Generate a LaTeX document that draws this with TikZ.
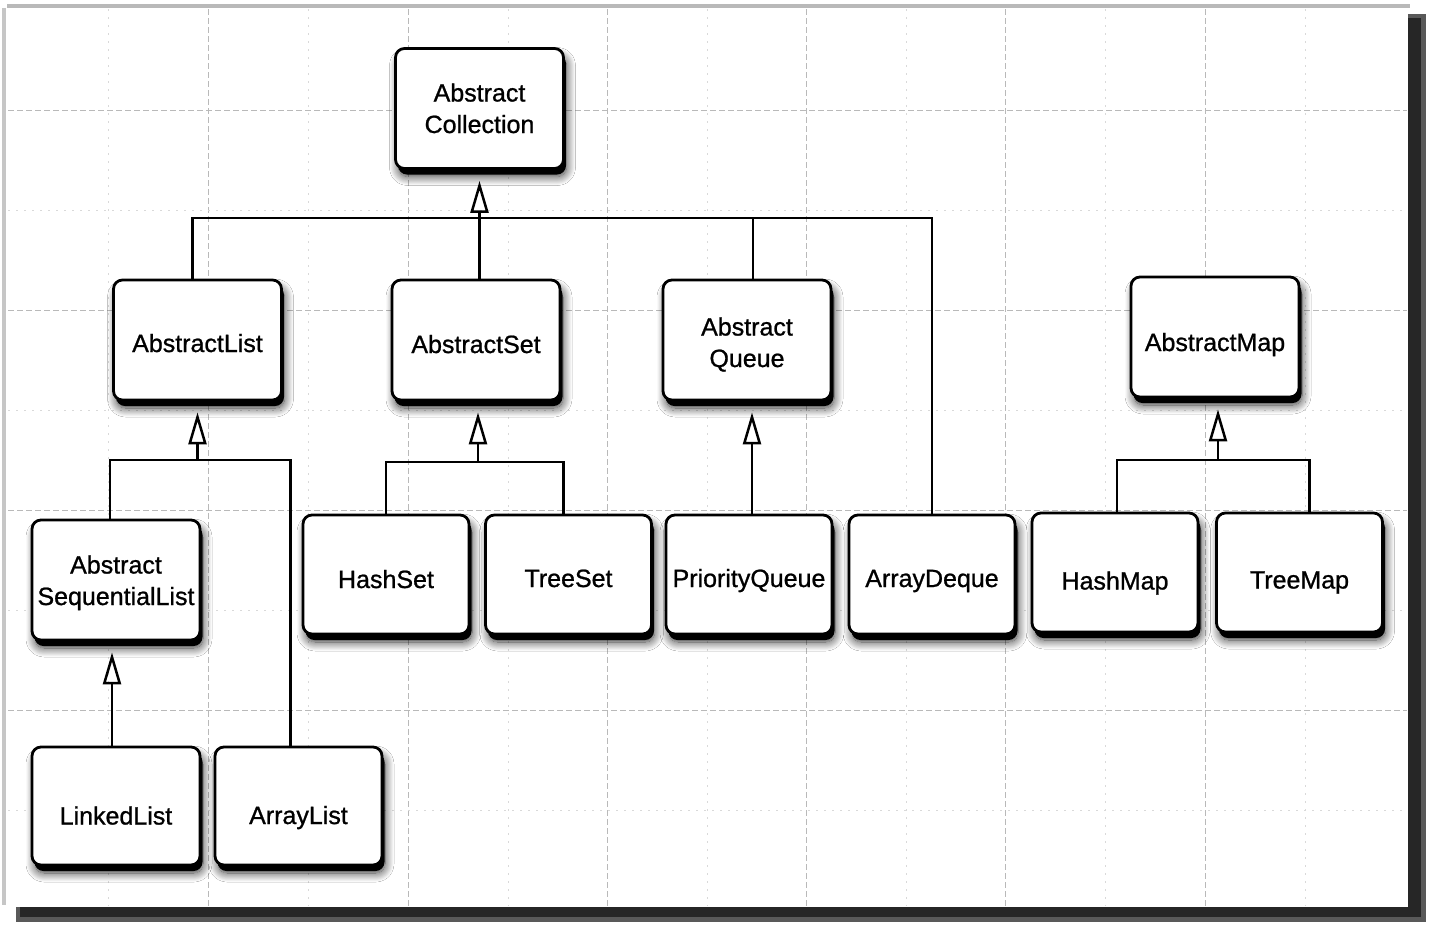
\documentclass[tikz,border=0pt]{standalone}
\usepackage{fontspec}
\setmainfont{Liberation Sans}
\newfontfamily\boxfont{Liberation Sans}[FakeBold=0.9]
\usetikzlibrary{arrows.meta,shadows.blur}
\newcommand\dn[2]{\raisebox{-#1}[0pt][0pt]{\makebox[0pt]{\parbox[b]{176pt}{\centering #2}}}}
\begin{document}
\begin{tikzpicture}[x=1pt,y=-1pt,
  box/.style={draw=black, line width=2.8pt, rounded corners=9pt, fill=white,
    minimum width=168pt, minimum height=120pt, inner sep=0pt,
    font=\boxfont\fontsize{25}{31.5}\selectfont,
    preaction={fill=black, transform canvas={xshift=2.5pt, yshift=-6pt}},
    blur shadow={shadow xshift=3pt, shadow yshift=-8pt, shadow blur radius=9pt, shadow opacity=80, shadow blur steps=14}},
  conn/.style={line width=2.5pt, black},
  inh/.style={conn, -{Triangle[open, length=32pt, width=18pt]}, shorten >=11pt},
  major/.style={gray!55, line width=1pt, dash pattern=on 6pt off 3pt},
  minor/.style={gray!30, line width=0.8pt, dash pattern=on 2pt off 6pt}]
\useasboundingbox (0,0) rectangle (1429,927);
\fill[white] (0,0) rectangle (1429,927);
% panel shadow and panel
\fill[black!65] (16,14) rectangle (1426,922);
\fill[black!85] (20,18) rectangle (1421,917);
\fill[white] (7,8) rectangle (1408,907);
\draw[gray!55, line width=4pt] (7,6) -- (1410,6);
\draw[gray!45, line width=4pt] (4,8) -- (4,905);
% grid
\foreach \gx in {208,408,607,806,1005,1205}
  \draw[major] (\gx,9) -- (\gx,906);
\foreach \gx in {108,308,508,707,906,1105,1305}
  \draw[minor] (\gx,9) -- (\gx,906);
\foreach \gy in {110,310,510,710}
  \draw[major] (8,\gy) -- (1407,\gy);
\foreach \gy in {210,410,610,810}
  \draw[minor] (8,\gy) -- (1407,\gy);
% rows of buses
\coordinate (r1) at (0,218);
\coordinate (r2) at (0,460);
\coordinate (r3) at (0,462);
% nodes
\node[box] (ac) at (479.5,108.5) {\dn{24.5pt}{Abstract\\Collection}};
\node[box] (al) at (197.5,340) {\dn{12pt}{AbstractList}};
\node[box] (as) at (476,340) {\dn{13pt}{AbstractSet}};
\node[box] (aq) at (747,340) {\dn{27pt}{Abstract\\Queue}};
\node[box] (am) at (1215,337) {\dn{14pt}{AbstractMap}};
\node[box] (asl) at (116,580) {\dn{25pt}{Abstract\\SequentialList}};
\node[box, minimum width=166pt, minimum height=119pt] (hs) at (386,574.5) {\dn{13.5pt}{HashSet}};
\node[box, minimum width=166pt, minimum height=119pt] (ts) at (568.5,574.5) {\dn{12.5pt}{TreeSet}};
\node[box, minimum width=166pt, minimum height=119pt] (pq) at (749,574.5) {\dn{12.5pt}{PriorityQueue}};
\node[box, minimum width=166pt, minimum height=119pt] (ad) at (932,574.5) {\dn{12.5pt}{ArrayDeque}};
\node[box, minimum width=166pt, minimum height=119pt] (hm) at (1115,572.5) {\dn{17pt}{HashMap}};
\node[box, minimum width=166pt, minimum height=119pt] (tm) at (1299.5,572.5) {\dn{16pt}{TreeMap}};
\node[box, minimum height=118pt] (ll) at (116,806) {\dn{18.5pt}{LinkedList}};
\node[box, minimum width=167pt, minimum height=118pt] (arl) at (298.5,806) {\dn{18pt}{ArrayList}};
% connectors: top level
\draw[conn] ([xshift=-5pt]al.north) |- (ac.south |- r1) -| (ad.north);
\draw[conn] ([xshift=6pt]aq.north) -- ([xshift=6pt]aq.north |- r1);
\draw[conn] (as.north -| ac.south) -- (ac.south |- r1);
\draw[inh] (ac.south |- r1) -- (ac.south);
% AbstractList subtree
\draw[conn] ([xshift=-6pt]asl.north) |- (al.south |- r2) -| ([xshift=-8pt]arl.north);
\draw[inh] (al.south |- r2) -- (al.south);
\draw[inh] ([xshift=-4pt]ll.north) -- ([xshift=-4pt]asl.south);
% AbstractSet subtree
\draw[conn] (hs.north) |- (as.south |- r3) -| ([xshift=-5pt]ts.north);
\draw[inh] ([xshift=2pt]as.south |- r3) -- ([xshift=2pt]as.south);
% AbstractQueue
\draw[inh] ([xshift=3pt]pq.north) -- ([xshift=5pt]aq.south);
% AbstractMap subtree
\draw[conn] ([xshift=2pt]hm.north) |- ([xshift=3pt]am.south |- r2) -| ([xshift=10pt]tm.north);
\draw[inh] ([xshift=3pt]am.south |- r2) -- ([xshift=3pt]am.south);
\end{tikzpicture}
\end{document}
